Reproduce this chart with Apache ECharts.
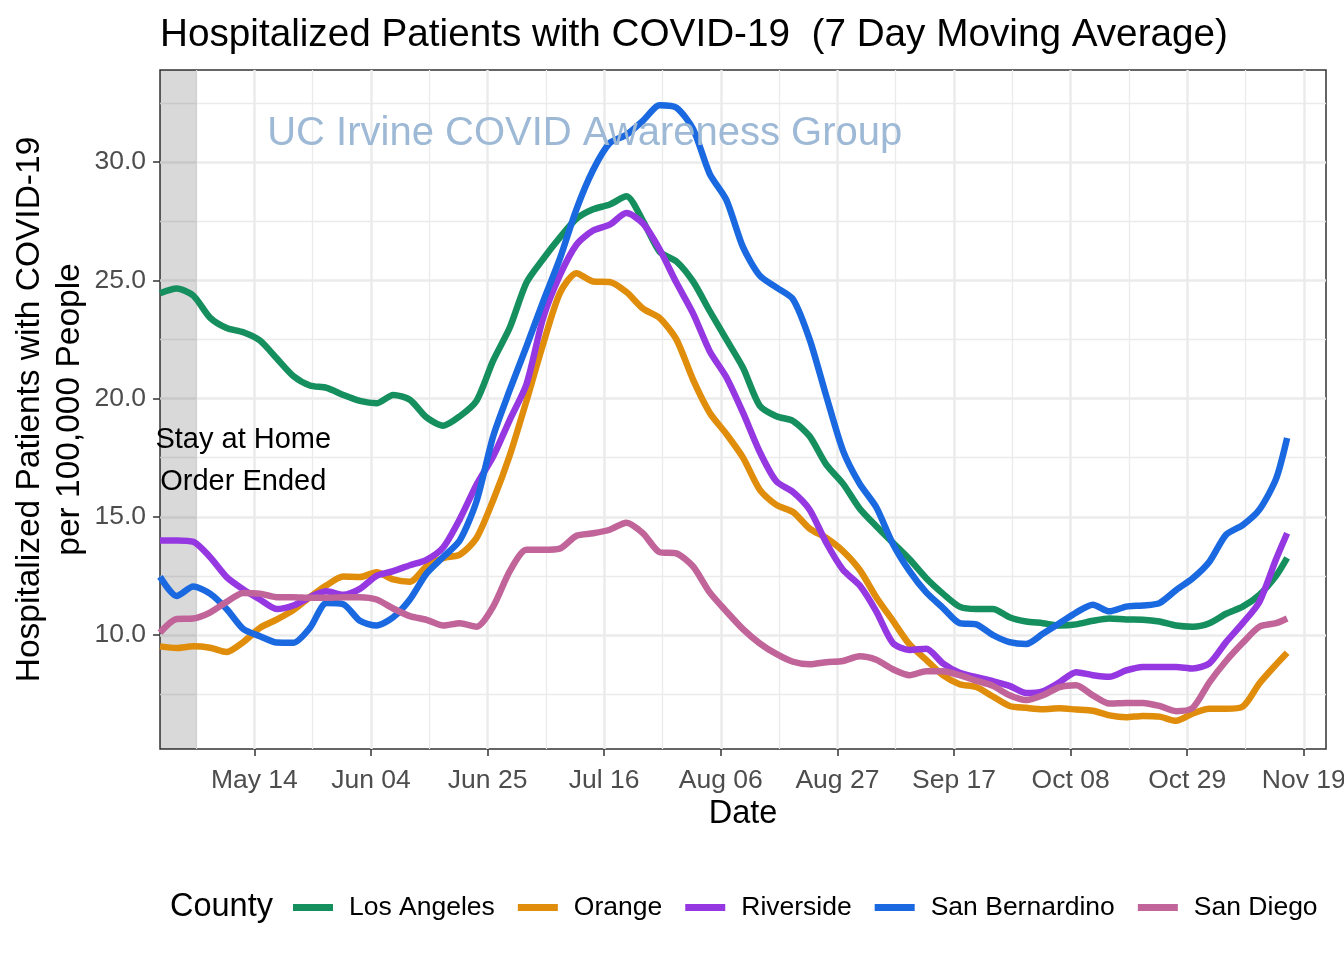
<!DOCTYPE html>
<html><head><meta charset="utf-8">
<script src="https://cdn.jsdelivr.net/npm/echarts@6/dist/echarts.min.js"></script>
<style>html,body{margin:0;padding:0;background:#fff}#c{width:1344px;height:960px}</style>
</head><body><div id="c"></div>
<script>
// ---- data ----
const counties = ['Los Angeles', 'Orange', 'Riverside', 'San Bernardino', 'San Diego'];
const colors = ['#168f5f', '#e08d0b', '#9538e2', '#1a69e0', '#c0649a'];
const seriesStart = '2020-04-27';   // first sample
const stepDays = 3;                 // sample spacing (days)
const lastDay = 203;                // final sample, days after start
const losAngeles = [24.45, 24.65, 24.35, 23.42, 22.98, 22.8, 22.45, 21.7, 20.95, 20.55,
  20.45, 20.15, 19.9, 19.8, 20.15, 19.95, 19.2, 18.85, 19.25, 19.9,
  21.6, 23.0, 24.9, 25.9, 26.8, 27.6, 28.0, 28.2, 28.55, 27.5,
  26.2, 25.8, 24.95, 23.7, 22.5, 21.3, 19.7, 19.25, 19.05, 18.4,
  17.2, 16.4, 15.35, 14.6, 13.9, 13.2, 12.4, 11.75, 11.2, 11.1,
  11.1, 10.75, 10.57, 10.5, 10.4, 10.45, 10.6, 10.7, 10.66, 10.65,
  10.57, 10.4, 10.35, 10.5, 10.9, 11.2, 11.7, 12.5, 13.26];
const orange = [9.52, 9.45, 9.52, 9.46, 9.28, 9.7, 10.3, 10.65, 11.05, 11.6,
  12.1, 12.47, 12.45, 12.65, 12.35, 12.25, 12.9, 13.25, 13.4, 14.1,
  15.7, 17.6, 19.9, 22.3, 24.45, 25.3, 24.95, 24.93, 24.5, 23.8,
  23.4, 22.5, 20.8, 19.4, 18.5, 17.5, 16.15, 15.5, 15.2, 14.5,
  14.1, 13.55, 12.76, 11.6, 10.6, 9.6, 8.95, 8.3, 7.92, 7.8,
  7.4, 7.0, 6.92, 6.86, 6.9, 6.85, 6.8, 6.6, 6.52, 6.58,
  6.55, 6.37, 6.68, 6.88, 6.88, 6.97, 7.95, 8.75, 9.25];
const riverside = [14.0, 14.0, 13.94, 13.3, 12.45, 11.93, 11.5, 11.1, 11.25, 11.6,
  11.85, 11.7, 11.95, 12.5, 12.7, 12.95, 13.18, 13.7, 14.9, 16.35,
  17.55, 19.1, 20.6, 23.4, 25.2, 26.5, 27.1, 27.35, 27.84, 27.4,
  26.3, 24.9, 23.6, 22.0, 20.9, 19.4, 17.75, 16.5, 16.05, 15.3,
  13.9, 12.76, 12.1, 11.0, 9.66, 9.37, 9.42, 8.8, 8.4, 8.22,
  8.05, 7.85, 7.55, 7.62, 8.0, 8.43, 8.3, 8.23, 8.5, 8.65,
  8.65, 8.65, 8.58, 8.8, 9.7, 10.5, 11.4, 13.2, 14.3];
const sanBernardino = [12.46, 11.65, 12.05, 11.75, 11.1, 10.25, 9.95, 9.68, 9.67, 10.3,
  11.35, 11.3, 10.6, 10.4, 10.75, 11.5, 12.6, 13.3, 14.0, 15.65,
  18.4, 20.36, 22.2, 24.1, 25.9, 28.0, 29.66, 30.8, 31.15, 31.75,
  32.4, 32.3, 31.4, 29.5, 28.4, 26.4, 25.2, 24.7, 24.2, 22.5,
  20.1, 17.8, 16.4, 15.4, 13.85, 12.7, 11.8, 11.15, 10.5, 10.45,
  10.0, 9.7, 9.62, 10.05, 10.5, 10.95, 11.28, 11.0, 11.2, 11.25,
  11.35, 11.9, 12.4, 13.1, 14.24, 14.65, 15.3, 16.6, 18.33];
const sanDiego = [10.1, 10.68, 10.7, 10.95, 11.4, 11.78, 11.75, 11.6, 11.6, 11.57,
  11.57, 11.6, 11.6, 11.5, 11.12, 10.8, 10.64, 10.4, 10.5, 10.35,
  11.2, 12.7, 13.6, 13.6, 13.65, 14.2, 14.3, 14.45, 14.75, 14.3,
  13.5, 13.45, 12.9, 11.8, 11.0, 10.25, 9.65, 9.2, 8.87, 8.76,
  8.85, 8.9, 9.1, 8.95, 8.55, 8.3, 8.47, 8.47, 8.3, 8.07,
  7.85, 7.45, 7.25, 7.45, 7.8, 7.88, 7.45, 7.1, 7.13, 7.13,
  7.0, 6.78, 6.92, 8.0, 8.9, 9.67, 10.35, 10.5, 10.7];
const xTickDates = ['2020-05-14', '2020-06-04', '2020-06-25', '2020-07-16', '2020-08-06',
  '2020-08-27', '2020-09-17', '2020-10-08', '2020-10-29', '2020-11-19'];
const yTicks = [10, 15, 20, 25, 30];
const yMinorTicks = [7.5, 12.5, 17.5, 22.5, 27.5, 32.5];
const xRange = ['2020-04-27', '2020-11-23'];
const stayHomeEnd = '2020-05-03T15:00:00Z';
const annotation = { text: 'Stay at Home\nOrder Ended', date: '2020-05-12', value: 17.37 };
const watermark = { text: 'UC Irvine COVID Awareness Group', date: '2020-07-12T12:00:00Z', value: 31.17 };

// ---- build ----
const DAY = 86400000;
const t = s => Date.parse(s.length === 10 ? s + 'T00:00:00Z' : s);
const start = t(seriesStart);
const dayOffsets = [];
for (let d = 0; d < lastDay; d += stepDays) dayOffsets.push(d);
dayOffsets.push(lastDay);
const allValues = [losAngeles, orange, riverside, sanBernardino, sanDiego];
const xTicks = xTickDates.map(t);
const xMinor = xTicks.map(v => v - 10.5 * DAY);
const MON = ['Jan','Feb','Mar','Apr','May','Jun','Jul','Aug','Sep','Oct','Nov','Dec'];
const fmtDate = v => { const d = new Date(v); return MON[d.getUTCMonth()] + ' ' + String(d.getUTCDate()).padStart(2, '0'); };
const FONT = '"Liberation Sans", Arial, Helvetica, sans-serif';
const xMin = t(xRange[0]), xMax = t(xRange[1]);
const yMin = 5.18, yMax = 33.89;

const series = counties.map((name, i) => ({
  name, type: 'line', xAxisIndex: 0, yAxisIndex: 0,
  data: dayOffsets.map((d, k) => [start + d * DAY, allValues[i][k]]),
  showSymbol: false, symbol: 'none', color: colors[i], smooth: 0.25,
  lineStyle: { width: 6.5, color: colors[i], join: 'round' },
  z: 3, animation: false
}));
series.push({
  name: '_shade', type: 'line', data: [], z: 10, animation: false,
  markArea: { silent: true, itemStyle: { color: 'rgba(0,0,0,0.15)' },
    data: [[{ xAxis: xMin - 30 * DAY }, { xAxis: t(stayHomeEnd) }]] },
  markPoint: { silent: true, symbol: 'rect', symbolSize: 1, itemStyle: { color: 'rgba(0,0,0,0)' },
    label: { show: true, position: 'inside', formatter: annotation.text, fontFamily: FONT, fontSize: 29, lineHeight: 42, color: '#000' },
    data: [{ coord: [t(annotation.date), annotation.value] }] }
});
series.push({
  name: '_wm', type: 'line', data: [], z: 1, animation: false,
  markPoint: { silent: true, symbol: 'rect', symbolSize: 1, itemStyle: { color: 'rgba(0,0,0,0)' },
    label: { show: true, position: 'inside', formatter: watermark.text, fontFamily: FONT, fontSize: 40, color: '#9db9d6' },
    data: [{ coord: [t(watermark.date), watermark.value] }] }
});

const chart = echarts.init(document.getElementById('c'), null, { renderer: 'canvas' });
chart.setOption({
  animation: false,
  backgroundColor: '#fff',
  textStyle: { fontFamily: FONT },
  title: [
    { text: 'Hospitalized Patients with COVID-19  (7 Day Moving Average)', left: 160, top: 16, padding: 0,
      textStyle: { fontFamily: FONT, fontSize: 38.7, fontWeight: 'normal', color: '#000' } },
    { text: 'County', left: 170, top: 891, padding: 0,
      textStyle: { fontFamily: FONT, fontSize: 32.5, fontWeight: 'normal', color: '#000' } }
  ],
  legend: {
    data: counties, left: 293, top: 894, padding: 0, icon: 'rect', itemWidth: 40, itemHeight: 7, itemGap: 23,
    textStyle: { fontFamily: FONT, fontSize: 26.5, color: '#000', padding: [0, 0, 0, 11] }
  },
  grid: { left: 160, right: 18, top: 70, bottom: 211, outerBoundsMode: 'none', containLabel: false,
    show: true, borderColor: '#333', borderWidth: 1.5, backgroundColor: '#fff' },
  xAxis: [
    { type: 'value', min: xMin, max: xMax, position: 'bottom',
      name: 'Date', nameLocation: 'middle', nameGap: 49, nameMoveOverlap: false,
      nameTextStyle: { fontFamily: FONT, fontSize: 32.5, color: '#000' },
      axisLine: { show: false },
      axisTick: { show: true, length: 7, customValues: xTicks, lineStyle: { color: '#333', width: 1.5 } },
      axisLabel: { show: true, customValues: xTicks, formatter: fmtDate, margin: 18, fontFamily: FONT, fontSize: 26.5, color: '#4d4d4d' },
      splitLine: { show: true, lineStyle: { color: '#ebebeb', width: 2.5 } } },
    { type: 'value', min: xMin, max: xMax, position: 'bottom',
      axisLine: { show: false }, axisLabel: { show: false },
      axisTick: { show: false, customValues: xMinor },
      splitLine: { show: true, lineStyle: { color: '#ebebeb', width: 1.3 } } }
  ],
  yAxis: [
    { type: 'value', min: yMin, max: yMax, position: 'left',
      name: 'Hospitalized Patients with COVID-19\nper 100,000 People', nameLocation: 'middle', nameRotate: 90, nameGap: 70, nameMoveOverlap: false,
      nameTextStyle: { fontFamily: FONT, fontSize: 33.5, lineHeight: 40, color: '#000' },
      axisLine: { show: false },
      axisTick: { show: true, length: 7, customValues: yTicks, lineStyle: { color: '#333', width: 1.5 } },
      axisLabel: { show: true, customValues: yTicks, formatter: v => v.toFixed(1), margin: 14, fontFamily: FONT, fontSize: 26.5, color: '#4d4d4d' },
      splitLine: { show: true, lineStyle: { color: '#ebebeb', width: 2.5 } } },
    { type: 'value', min: yMin, max: yMax, position: 'left',
      axisLine: { show: false }, axisLabel: { show: false },
      axisTick: { show: false, customValues: yMinorTicks },
      splitLine: { show: true, lineStyle: { color: '#ebebeb', width: 1.3 } } }
  ],
  series
});
</script>
</body></html>
